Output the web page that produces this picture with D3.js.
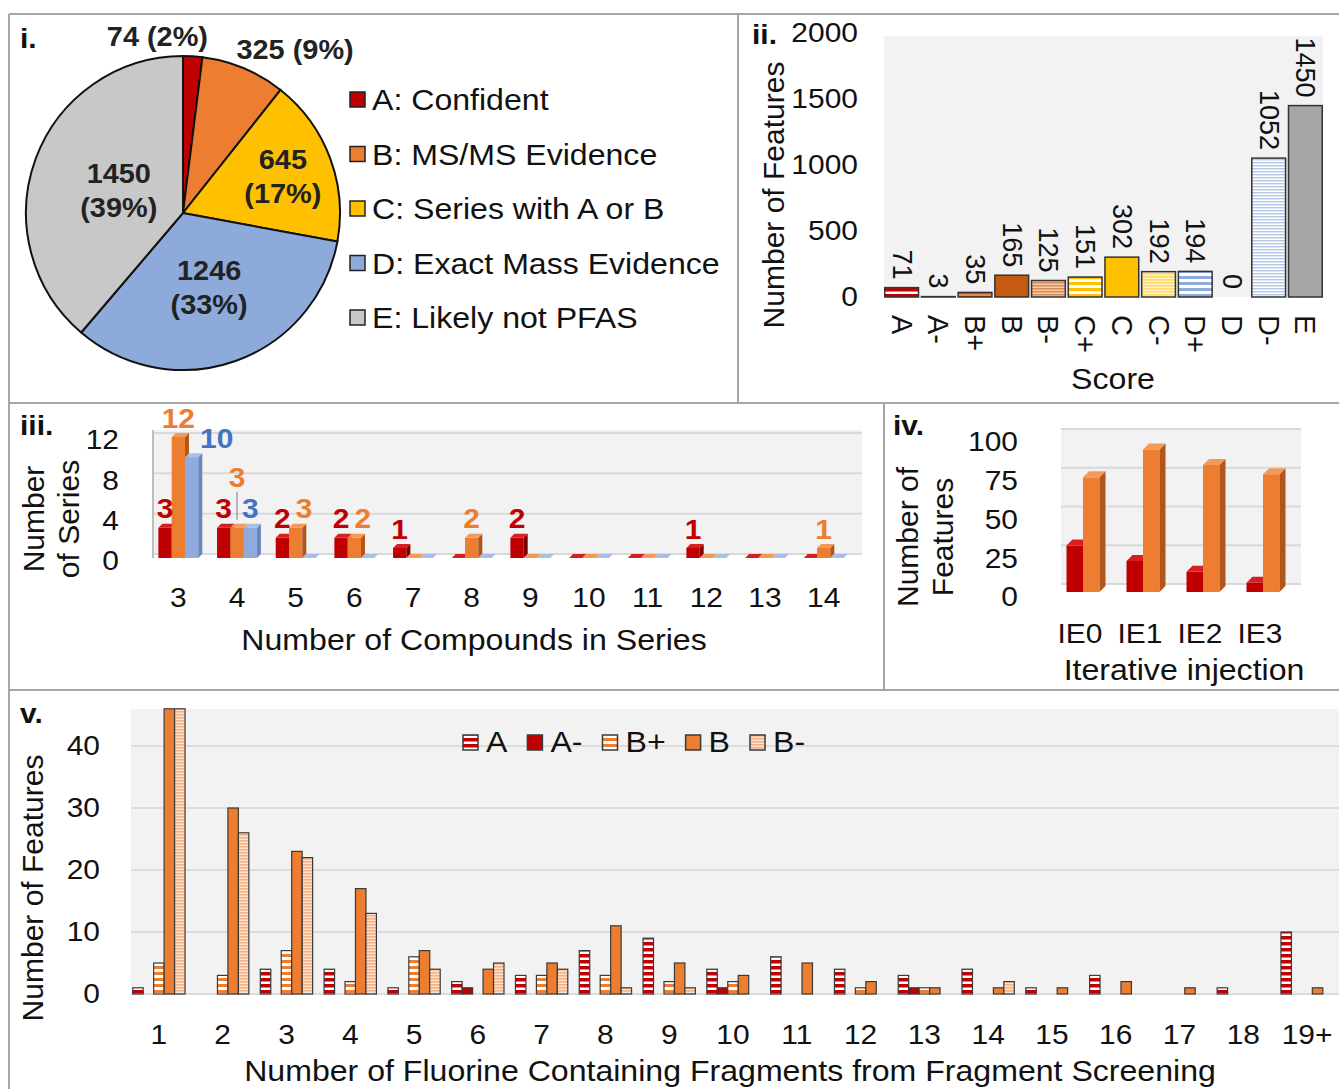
<!DOCTYPE html>
<html><head><meta charset="utf-8">
<script src="https://cdn.jsdelivr.net/npm/d3@7"></script>
<style>
body{margin:0;background:#fff}
svg{display:block;font-family:"Liberation Sans",Arial,sans-serif}
</style></head><body>
<svg id="chart" width="1339" height="1089"></svg>
<script>
// i. pie
const pieLabels = ['A: Confident', 'B: MS/MS Evidence', 'C: Series with A or B', 'D: Exact Mass Evidence', 'E: Likely not PFAS'];
const pieValues = [74, 325, 645, 1246, 1450];
const piePercents = ['2%', '9%', '17%', '33%', '39%'];
// ii. score distribution
const scoreCats = ['A', 'A-', 'B+', 'B', 'B-', 'C+', 'C', 'C-', 'D+', 'D', 'D-', 'E'];
const scoreValues = [71, 3, 35, 165, 125, 151, 302, 192, 194, 0, 1052, 1450];
const scoreTicks = [0, 500, 1000, 1500, 2000];
// iii. homologous series
const seriesSizes = ['3', '4', '5', '6', '7', '8', '9', '10', '11', '12', '13', '14'];
const seriesA = [3, 3, 2, 2, 1, 0, 2, 0, 0, 1, 0, 0];
const seriesB = [12, 3, 3, 2, 0, 2, 0, 0, 0, 0, 0, 1];
const seriesC = [10, 3, 0, 0, 0, 0, 0, 0, 0, 0, 0, 0];
const seriesTicks = [0, 4, 8, 12];
// iv. iterative injection
const injections = ['IE0', 'IE1', 'IE2', 'IE3'];
const injA = [30, 20, 13, 6];
const injB = [74, 92, 82, 76];
const injTicks = [0, 25, 50, 75, 100];
// v. fluorine fragments
const fragCats = ['1', '2', '3', '4', '5', '6', '7', '8', '9', '10', '11', '12', '13', '14', '15', '16', '17', '18', '19+'];
const fragNames = ['A', 'A-', 'B+', 'B', 'B-'];
const fragA  = [1, 0, 4, 4, 1, 2, 3, 7, 9, 4, 6, 4, 3, 4, 1, 3, 0, 1, 10];
const fragAm = [0, 0, 0, 0, 0, 1, 0, 0, 0, 1, 0, 0, 1, 0, 0, 0, 0, 0, 0];
const fragBp = [5, 3, 7, 2, 6, 0, 3, 3, 2, 2, 0, 1, 1, 0, 0, 0, 0, 0, 0];
const fragB  = [46, 30, 23, 17, 7, 4, 5, 11, 5, 3, 5, 2, 1, 1, 1, 2, 1, 0, 1];
const fragBm = [46, 26, 22, 13, 4, 5, 4, 1, 1, 0, 0, 0, 0, 2, 0, 0, 0, 0, 0];
const fragTicks = [0, 10, 20, 30, 40];

const svg = d3.select('#chart');
const defs = svg.append('defs');
function stripes(id, c1, c2, period, band) {
  const p = defs.append('pattern').attr('id', id).attr('patternUnits', 'userSpaceOnUse')
    .attr('width', 8).attr('height', period);
  p.append('rect').attr('width', 8).attr('height', period).attr('fill', c2);
  p.append('rect').attr('width', 8).attr('height', band).attr('fill', c1);
}
stripes('pA', '#c00000', '#ffffff', 6, 3.5);
stripes('pBp', '#ed7d31', '#ffffff', 6, 3);
stripes('pBm', '#f4b183', '#fde4d0', 3, 1.6);
stripes('pBp2', '#c55a11', '#e88a4a', 4, 2);
stripes('pBm2', '#d98a52', '#f8cbad', 3, 1.5);
stripes('pCp', '#ffc000', '#ffffff', 6, 3.2);
stripes('pCm', '#ffd966', '#fff4cc', 3, 1.6);
stripes('pDp', '#8faadc', '#ffffff', 6, 3);
stripes('pDm', '#b4c7e7', '#ffffff', 3, 1.4);

// the figure's lettering is a little wider than plain Arial
const SX = 1.07;
const FS = 28, TS = 30;
const txt = (g, x, y, s, size, o = {}) => g.append('text')
  .attr('transform', `translate(${x},${y}) scale(${SX},1)`)
  .attr('font-size', size).attr('fill', o.fill || '#111').attr('font-weight', o.bold ? 'bold' : null)
  .attr('text-anchor', o.anchor || 'start').attr('dominant-baseline', 'central').text(s);
const vtxt = (g, x, y, s, size) => g.append('text').attr('transform', `translate(${x},${y}) rotate(-90)`)
  .attr('text-anchor', 'middle').attr('dominant-baseline', 'central').attr('font-size', size)
  .attr('fill', '#111').text(s);
const styleAxis = ax => {
  ax.select('.domain').remove();
  ax.selectAll('text').attr('font-size', FS).attr('fill', '#111').attr('font-family', null)
    .attr('transform', `scale(${SX},1)`);
};

// panel borders
const bc = '#a6a6a6';
[[9, 14, 1339, 14], [9, 14, 9, 1089], [738, 14, 738, 403], [9, 403, 1339, 403],
 [884, 403, 884, 690], [9, 690, 1339, 690]].forEach(l =>
  svg.append('line').attr('x1', l[0]).attr('y1', l[1]).attr('x2', l[2]).attr('y2', l[3])
    .attr('stroke', bc).attr('stroke-width', 2));

// ---------- i. pie ----------
const gI = svg.append('g');
const pieCols = ['#c00000', '#ed7d31', '#ffc000', '#8eaadb', '#c8c8c8'];
const cxP = 183, cyP = 213, rP = 157;
const arcs = d3.pie().sort(null).value(d => d)(pieValues);
const arc = d3.arc().innerRadius(0).outerRadius(rP);
gI.append('g').attr('transform', `translate(${cxP},${cyP})`).selectAll('path').data(arcs).join('path')
  .attr('d', arc).attr('fill', (d, i) => pieCols[i]).attr('stroke', '#111').attr('stroke-width', 2);
arcs.forEach((p, i) => {
  const ang = p.endAngle - p.startAngle, mid = (p.startAngle + p.endAngle) / 2;
  if (ang > 0.8) {
    const lr = rP * (0.68 - (ang - 1.08) * 0.18);
    const x = cxP + lr * Math.sin(mid), y = cyP - lr * Math.cos(mid);
    txt(gI, x, y - 16, pieValues[i], 27, {bold: true, anchor: 'middle', fill: '#222'});
    txt(gI, x, y + 18, `(${piePercents[i]})`, 27, {bold: true, anchor: 'middle', fill: '#222'});
  } else {
    const lr = rP + 20;
    const x = cxP + lr * Math.sin(mid), y = cyP - lr * Math.cos(mid);
    const end = mid < 0.1;
    txt(gI, end ? x + 14 : x - 15, y, `${pieValues[i]} (${piePercents[i]})`, 27,
      {bold: true, anchor: end ? 'end' : 'start', fill: '#222'});
  }
});
txt(gI, 20, 38, 'i.', 28, {bold: true});
const legY = d3.scalePoint().domain(pieLabels).range([100, 318]);
pieLabels.forEach((l, i) => {
  gI.append('rect').attr('x', 350).attr('y', legY(l) - 8).attr('width', 15).attr('height', 15)
    .attr('fill', pieCols[i]).attr('stroke', '#222').attr('stroke-width', 1.5);
  txt(gI, 372, legY(l), l, TS);
});

// ---------- ii. score bars ----------
const gII = svg.append('g');
const scoreFill = {'A': 'url(#pA)', 'A-': '#c00000', 'B+': 'url(#pBp2)', 'B': '#c55a11', 'B-': 'url(#pBm2)',
  'C+': 'url(#pCp)', 'C': '#ffc000', 'C-': 'url(#pCm)', 'D+': 'url(#pDp)', 'D': '#8faadc', 'D-': 'url(#pDm)', 'E': '#a6a6a6'};
const x2 = d3.scaleBand().domain(scoreCats).range([884, 1323]).paddingInner(0.08).paddingOuter(0.02);
const y2 = d3.scaleLinear().domain([0, 2000]).range([297, 33]);
gII.append('rect').attr('x', 884).attr('y', 36).attr('width', 439).attr('height', 261).attr('fill', '#f2f2f2');
gII.selectAll('rect.bar').data(scoreCats).join('rect').attr('class', 'bar')
  .attr('x', d => x2(d)).attr('width', x2.bandwidth())
  .attr('y', (d, i) => y2(scoreValues[i])).attr('height', (d, i) => y2(0) - y2(scoreValues[i]))
  .attr('fill', d => scoreFill[d]).attr('stroke', '#333').attr('stroke-width', 1.5)
  .attr('display', (d, i) => scoreValues[i] ? null : 'none');
scoreCats.forEach((c, i) => {
  const cx = x2(c) + x2.bandwidth() / 2;
  gII.append('text').attr('transform', `translate(${cx},${y2(scoreValues[i]) - 8}) rotate(90)`)
    .attr('text-anchor', 'end').attr('dominant-baseline', 'central').attr('font-size', 27).attr('fill', '#111')
    .text(scoreValues[i]);
  gII.append('text').attr('transform', `translate(${cx},${y2(0) + 18}) rotate(90)`)
    .attr('text-anchor', 'start').attr('dominant-baseline', 'central').attr('font-size', 29).attr('fill', '#111')
    .text(c);
});
const ax2 = gII.append('g').attr('transform', 'translate(858,0)')
  .call(d3.axisLeft(y2).tickValues(scoreTicks).tickFormat(d3.format('d')).tickSize(0).tickPadding(0));
styleAxis(ax2);
vtxt(gII, 773, 195, 'Number of Features', TS);
txt(gII, 1113, 379, 'Score', TS, {anchor: 'middle'});
txt(gII, 752, 34, 'ii.', 28, {bold: true});

// ---------- 3D helper ----------
function bar3d(g, x, w, yTop, yBase, d, cols) {
  if (yBase - yTop > 0)
    g.append('rect').attr('x', x).attr('y', yTop).attr('width', w).attr('height', yBase - yTop).attr('fill', cols[0]);
  g.append('path').attr('d', `M${x + w},${yTop}L${x + w + d},${yTop - d}L${x + w + d},${yBase - d}L${x + w},${yBase}Z`)
    .attr('fill', cols[1]);
  g.append('path').attr('d', `M${x},${yTop}L${x + d},${yTop - d}L${x + w + d},${yTop - d}L${x + w},${yTop}Z`)
    .attr('fill', cols[2]);
}
const red3 = ['#c00000', '#7d0000', '#d42020'];
const org3 = ['#ed7d31', '#b1561a', '#f39a5a'];
const blu3 = ['#8faadc', '#6a87bd', '#a9bfe6'];

// ---------- iii. series ----------
const gIII = svg.append('g');
const d3d = 4;
const x3 = d3.scaleBand().domain(seriesSizes).range([149, 853]).paddingInner(0.32).paddingOuter(0.16);
const x3s = d3.scaleBand().domain([0, 1, 2]).range([0, x3.bandwidth()]);
const y3 = d3.scaleLinear().domain([0, 12]).range([558, 437]);
gIII.append('rect').attr('x', 153).attr('y', 430).attr('width', 709).attr('height', y3(0) - d3d - 430).attr('fill', '#f2f2f2');
seriesTicks.forEach(t => gIII.append('line').attr('x1', 153).attr('x2', 862)
  .attr('y1', y3(t) - d3d).attr('y2', y3(t) - d3d).attr('stroke', '#d9d9d9').attr('stroke-width', 2));
gIII.append('line').attr('x1', 153).attr('x2', 153).attr('y1', 430).attr('y2', y3(0)).attr('stroke', '#bfbfbf').attr('stroke-width', 2);
const ser3 = [seriesA, seriesB, seriesC], cols3 = [red3, org3, blu3];
const labCol3 = ['#c00000', '#ed7d31', '#4472c4'];
seriesSizes.forEach((c, i) => {
  const vals = ser3.map(s => s[i]);
  const placed = [];
  vals.forEach((v, s) => {
    const bx = x3(c) + x3s(s), bw = x3s.bandwidth();
    bar3d(gIII, bx, bw, y3(v), y3(0), d3d, cols3[s]);
  });
  vals.forEach((v, s) => {
    if (!v) return;
    const bx = x3(c) + x3s(s), bw = x3s.bandwidth();
    const w = String(v).length * 15.6 * SX;
    let lx = bx + bw / 2, ly = y3(v) - d3d - 15;
    if (s > 0 && vals[s - 1] > v) lx = bx + bw + w / 2;
    const hit = placed.find(p => Math.abs(p.y - ly) < 22 && lx - w / 2 < p.x + p.w / 2 + 5 && lx > p.x);
    if (hit) {
      if (vals[s + 1] === v) {
        ly -= 31;
        gIII.append('line').attr('x1', lx).attr('x2', lx).attr('y1', ly + 14).attr('y2', y3(v) - d3d - 4)
          .attr('stroke', '#8c8c8c').attr('stroke-width', 1.2);
      } else lx = hit.x + hit.w / 2 + 5 + w / 2;
    }
    placed.push({x: lx, y: ly, w});
    txt(gIII, lx, ly, v, 28, {bold: true, anchor: 'middle', fill: labCol3[s]});
  });
});
const ax3 = gIII.append('g').attr('transform', 'translate(119,3)')
  .call(d3.axisLeft(y3).tickValues(seriesTicks).tickSize(0).tickPadding(0));
styleAxis(ax3);
seriesSizes.forEach(c => txt(gIII, x3(c) + x3.bandwidth() / 2, 597, c, FS, {anchor: 'middle'}));
txt(gIII, 474, 640, 'Number of Compounds in Series', TS, {anchor: 'middle'});
vtxt(gIII, 33, 519, 'Number', TS);
vtxt(gIII, 68, 519, 'of Series', TS);
txt(gIII, 20, 425, 'iii.', 28, {bold: true});

// ---------- iv. iterative injection ----------
const gIV = svg.append('g');
const wall4 = 8, d4 = 6;
const x4 = d3.scaleBand().domain(injections).range([1053, 1293]).paddingInner(0.45).paddingOuter(0.225);
const x4s = d3.scaleBand().domain([0, 1]).range([0, x4.bandwidth()]);
const y4 = d3.scaleLinear().domain([0, 100]).range([592, 437]);
gIV.append('rect').attr('x', 1053 + wall4).attr('y', y4(100) - wall4 - 1).attr('width', 240)
  .attr('height', y4(0) - y4(100) + 1).attr('fill', '#f2f2f2');
injTicks.forEach(t => gIV.append('line').attr('x1', 1053 + wall4).attr('x2', 1293 + wall4)
  .attr('y1', y4(t) - wall4).attr('y2', y4(t) - wall4).attr('stroke', '#d9d9d9').attr('stroke-width', 2));
injections.forEach((c, i) => {
  [injA[i], injB[i]].forEach((v, s) => {
    bar3d(gIV, x4(c) + x4s(s), x4s.bandwidth(), y4(v), y4(0), d4, s ? org3 : red3);
  });
  txt(gIV, x4(c) + x4.bandwidth() / 2 - 3, 633, c, FS, {anchor: 'middle'});
});
const ax4 = gIV.append('g').attr('transform', 'translate(1018,5)')
  .call(d3.axisLeft(y4).tickValues(injTicks).tickSize(0).tickPadding(0));
styleAxis(ax4);
txt(gIV, 1184, 670, 'Iterative injection', TS, {anchor: 'middle'});
vtxt(gIV, 907, 537, 'Number of', TS);
vtxt(gIV, 942, 537, 'Features', TS);
txt(gIV, 893, 425, 'iv.', 28, {bold: true});

// ---------- v. fragments ----------
const gV = svg.append('g');
const fragSeries = [fragA, fragAm, fragBp, fragB, fragBm];
const fragFill = ['url(#pA)', '#c00000', 'url(#pBp)', '#ed7d31', 'url(#pBm)'];
const x5 = d3.scaleBand().domain(fragCats).range([127, 1339]).paddingInner(0.18).paddingOuter(0.09);
const x5s = d3.scaleBand().domain(fragNames).range([0, x5.bandwidth()]);
const y5 = d3.scaleLinear().domain([0, 46]).range([994, 708.8]);
gV.append('rect').attr('x', 131).attr('y', y5(46)).attr('width', 1208).attr('height', y5(0) - y5(46) + 1).attr('fill', '#f2f2f2');
fragTicks.forEach(t => gV.append('line').attr('x1', 131).attr('x2', 1339).attr('y1', y5(t)).attr('y2', y5(t))
  .attr('stroke', '#dcdcdc').attr('stroke-width', 2));
fragSeries.forEach((ser, s) => {
  gV.append('g').selectAll('rect').data(fragCats.filter((c, i) => ser[i] > 0)).join('rect')
    .attr('x', c => x5(c) + x5s(fragNames[s])).attr('width', x5s.bandwidth())
    .attr('y', c => y5(ser[fragCats.indexOf(c)])).attr('height', c => y5(0) - y5(ser[fragCats.indexOf(c)]))
    .attr('fill', fragFill[s]).attr('stroke', '#3a3a3a').attr('stroke-width', 1.2);
});
const ax5 = gV.append('g').attr('transform', 'translate(100,0)')
  .call(d3.axisLeft(y5).tickValues(fragTicks).tickSize(0).tickPadding(0));
styleAxis(ax5);
fragCats.forEach(c => txt(gV, x5(c) + x5.bandwidth() / 2, 1034, c, FS, {anchor: 'middle'}));
txt(gV, 730, 1071, 'Number of Fluorine Containing Fragments from Fragment Screening', TS, {anchor: 'middle'});
vtxt(gV, 32, 888, 'Number of Features', TS);
txt(gV, 20, 713, 'v.', 28, {bold: true});
// legend
let lx = 463;
fragNames.forEach((n, s) => {
  gV.append('rect').attr('x', lx).attr('y', 735).attr('width', 15).attr('height', 15)
    .attr('fill', fragFill[s]).attr('stroke', '#3a3a3a').attr('stroke-width', 1.5);
  const t = txt(gV, lx + 23, 742, n, TS);
  lx += 23 + t.node().getComputedTextLength() * SX + 20;
});
</script>
</body></html>
